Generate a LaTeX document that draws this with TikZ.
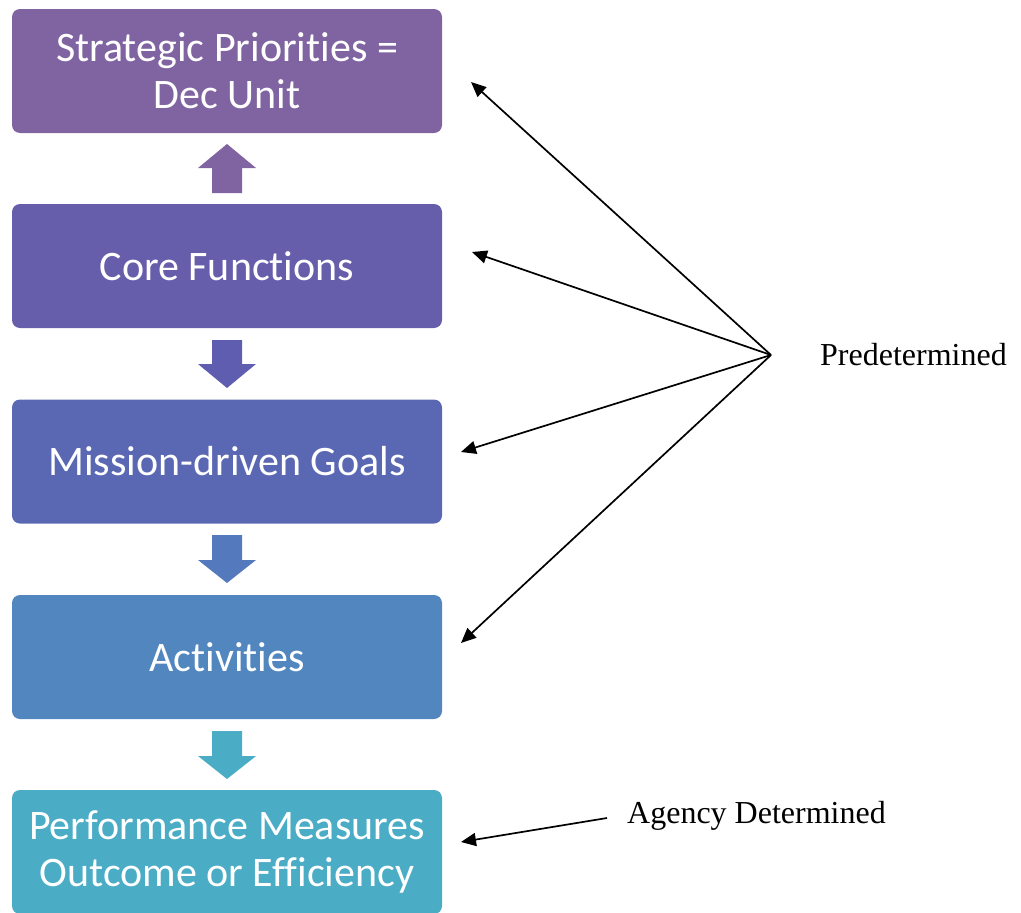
\documentclass[tikz,border=0pt]{standalone}
\usepackage{fontspec}
\setmainfont{Liberation Serif}
\newfontfamily\tierfont[Ligatures=NoCommon]{Carlito}
\usetikzlibrary{arrows.meta}

\definecolor{stratfill}{HTML}{8064A2}
\definecolor{corefill}{HTML}{675EAB}
\definecolor{goalfill}{HTML}{5A68B4}
\definecolor{actfill}{HTML}{5186BE}
\definecolor{perffill}{HTML}{4BACC6}
\definecolor{downone}{HTML}{5F5DAF}
\definecolor{downtwo}{HTML}{5479BC}

\tikzset{
  tier/.style={rounded corners=8pt, minimum width=430pt, minimum height=124pt,
    inner sep=0pt, text=white, align=center,
    font=\tierfont\fontsize{42}{47}\selectfont},
  tag/.style={inner sep=0pt, font=\fontsize{32}{36}\selectfont},
  pointer/.style={line width=1.7pt, -{Triangle[length=15pt,width=13pt]}}
}

\begin{document}
\begin{tikzpicture}[x=1pt,y=-1pt]
    \useasboundingbox (0,0) rectangle (1021,913);

    % Levels of the hierarchy
    \node [tier, fill=stratfill] (strat) at (227,71) {Strategic Priorities =\\Dec Unit};
    \node [tier, fill=corefill] (core) at (227,266) {Core Functions};
    \node [tier, fill=goalfill] (goals) at (227,461.5) {Mission-driven Goals};
    \node [tier, fill=actfill] (acts) at (227,657) {Activities};
    \node [tier, fill=perffill] (perf) at (227,852) {Performance Measures\\Outcome or Efficiency};

    % Block arrow core -> strat (pointing up)
    \fill [stratfill] (212,193) -- (212,168) -- (198,168) -- (227,144) -- (256,168) -- (242,168) -- (242,193) -- cycle;

    % Block arrow core -> goals
    \fill [downone] (212,340) -- (212,364) -- (198,364) -- (227,388) -- (256,364) -- (242,364) -- (242,340) -- cycle;

    % Block arrow goals -> acts
    \fill [downtwo] (212,535) -- (212,560) -- (198,560) -- (227,583) -- (256,560) -- (242,560) -- (242,535) -- cycle;

    % Block arrow acts -> perf
    \fill [perffill] (212,731) -- (212,756) -- (198,756) -- (227,779) -- (256,756) -- (242,756) -- (242,731) -- cycle;

    % Predetermined fan
    \node [tag, anchor=base west] (pred) at (820,365) {Predetermined};
    \coordinate (fan) at (771,355);
    \coordinate (strattip) at (471,82);
    \coordinate (coretip) at (472,252);
    \coordinate (goalstip) at (461,452);
    \coordinate (actstip) at (461,643);
    \draw [pointer] (fan) -- (strattip);
    \draw [pointer] (fan) -- (coretip);
    \draw [pointer] (fan) -- (goalstip);
    \draw [pointer] (fan) -- (actstip);

    % Agency determined
    \node [tag, anchor=base west] (agency) at (627,823) {Agency Determined};
    \coordinate (agencyfoot) at (607,818);
    \coordinate (perftip) at (461,842);
    \draw [pointer] (agencyfoot) -- (perftip);
\end{tikzpicture}
\end{document}
